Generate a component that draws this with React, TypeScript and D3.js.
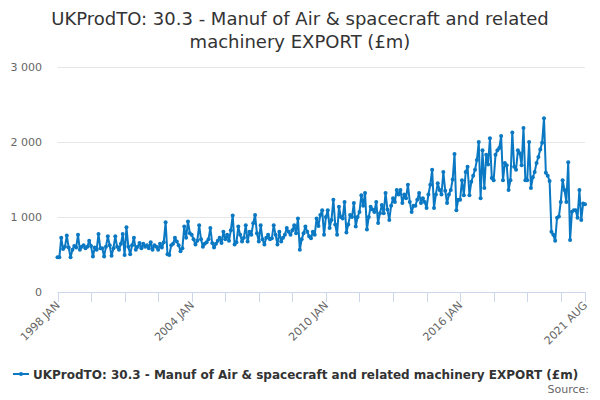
import * as d3 from "d3";
import React, { useEffect, useRef } from "react";

const startYear = 1998;
const monthNames = ["JAN", "FEB", "MAR", "APR", "MAY", "JUN", "JUL", "AUG", "SEP", "OCT", "NOV", "DEC"];

// monthly export values, £m, one row per year
const exportValues = [
  460, 460, 720, 570, 600, 750, 590, 460, 560, 610, 590, 760,
  560, 600, 620, 580, 600, 680, 610, 470, 590, 560, 770, 580,
  580, 470, 600, 740, 620, 480, 580, 740, 600, 560, 640, 770,
  490, 860, 600, 500, 620, 720, 560, 600, 650, 580, 640, 600,
  620, 580, 660, 560, 620, 600, 560, 640, 590, 660, 930, 500,
  490, 620, 640, 720, 670, 620, 540, 580, 870, 720, 940, 780,
  760, 700, 630, 680, 890, 700, 600, 640, 660, 700, 850, 650,
  590, 640, 680, 720, 650, 800, 700, 760, 680, 820, 1020, 630,
  660, 870, 760, 670, 720, 890, 670, 800, 760, 915, 1025, 780,
  670, 890, 700, 630, 720, 760, 700, 715, 890, 760, 630, 800,
  670, 720, 760, 850, 800, 760, 820, 890, 780, 980, 560, 700,
  780, 870, 800, 740, 715, 800, 760, 980, 880, 1025, 1090, 760,
  1000, 1090, 850, 960, 1230, 900, 760, 1135, 1000, 980, 1200, 790,
  900, 1025, 1000, 1185, 870, 1000, 1065, 1290, 1150, 1320, 830, 1000,
  1135, 1100, 1065, 1200, 920, 1050, 1160, 1050, 1320, 1100, 960, 1150,
  1250, 1200, 1360, 1300, 1360, 1185, 1300, 1250, 1430, 1200, 1065, 1150,
  1150, 1230, 1320, 1185, 1250, 1200, 1120, 1300, 1430, 1630, 1120, 1300,
  1450, 1360, 1300, 1600, 1350, 1185, 1300, 1360, 1500, 1840, 1090, 1230,
  1230, 1490, 1290, 1600, 1670, 1290, 1470, 1550, 1630, 1760, 2000, 1250,
  1890, 1385, 1830, 1700, 2050, 1520, 1490, 1830, 1890, 1920, 2080, 1490,
  1720, 1690, 1360, 1490, 2130, 1670, 1630, 1890, 1850, 1690, 2190, 1490,
  1490, 2000, 1385, 1530, 1600, 1720, 1800, 1900, 1990, 2320, 1590, 1550,
  1480, 800, 760, 680, 990, 1005, 1200, 1490, 1360, 1200, 1730, 690,
  1070, 1090, 1090, 990, 1360, 960, 1180, 1170,
];

const yTicks = [0, 1000, 2000, 3000];
const xTickLabels = ["1998 JAN", "2004 JAN", "2010 JAN", "2016 JAN", "2021 AUG"];

const titleLines = [
  "UKProdTO: 30.3 - Manuf of Air & spacecraft and related",
  "machinery EXPORT (£m)",
];
const seriesName = "UKProdTO: 30.3 - Manuf of Air & spacecraft and related machinery EXPORT (£m)";

const FONT = "'DejaVu Sans', sans-serif";
const LINE_COLOR = "#0a78c2";

const App = () => {
  const ref = useRef<SVGSVGElement | null>(null);

  useEffect(() => {
    document.body.style.margin = "0";
    const svg = d3.select(ref.current);
    svg.selectAll("*").remove();

    const width = 600;
    const height = 400;
    svg.attr("width", width).attr("height", height);

    const data = exportValues.map((v, i) => ({
      label: `${startYear + Math.floor(i / 12)} ${monthNames[i % 12]}`,
      value: v,
      i,
    }));
    const last = data.length - 1;

    const x = d3.scaleLinear().domain([0, last]).range([57.5, 585]);
    const y = d3.scaleLinear().domain([0, 3000]).range([291.7, 67.3]);

    svg.append("rect").attr("width", width).attr("height", height).attr("fill", "#fff");

    // title
    svg
      .append("g")
      .selectAll("text")
      .data(titleLines)
      .enter()
      .append("text")
      .attr("x", width / 2)
      .attr("y", (_, i) => 25 + i * 23)
      .attr("text-anchor", "middle")
      .style("font-family", FONT)
      .style("font-size", "18px")
      .attr("fill", "#333")
      .text((d) => d);

    // gridlines
    svg
      .append("g")
      .selectAll("line")
      .data(yTicks.filter((t) => t > 0))
      .enter()
      .append("line")
      .attr("x1", 57.5)
      .attr("x2", 585)
      .attr("y1", (d) => Math.round(y(d)) + 0.5)
      .attr("y2", (d) => Math.round(y(d)) + 0.5)
      .attr("stroke", "#e6e6e6");

    svg
      .append("g")
      .selectAll("text")
      .data(yTicks)
      .enter()
      .append("text")
      .attr("x", 42)
      .attr("y", (d) => y(d) + 4)
      .attr("text-anchor", "end")
      .style("font-family", FONT)
      .style("font-size", "11px")
      .attr("fill", "#666")
      .text((d) => d3.format(",")(d).replace(",", " "));

    // x axis
    const xAxis = svg.append("g");
    xAxis
      .append("line")
      .attr("x1", 57.5)
      .attr("x2", 585)
      .attr("y1", 292.5)
      .attr("y2", 292.5)
      .attr("stroke", "#ccd6eb");

    const tickIdx = d3.range(0, last, 18).concat([last]);
    xAxis
      .selectAll("line.tick")
      .data(tickIdx)
      .enter()
      .append("line")
      .attr("class", "tick")
      .attr("x1", (d) => Math.round(x(d)) + 0.5)
      .attr("x2", (d) => Math.round(x(d)) + 0.5)
      .attr("y1", 292)
      .attr("y2", 302)
      .attr("stroke", "#ccd6eb");

    const labelled = data.filter((d) => xTickLabels.includes(d.label));
    xAxis
      .selectAll("text")
      .data(labelled)
      .enter()
      .append("text")
      .attr("transform", (d) => `translate(${x(d.i) + 3},${306}) rotate(-45)`)
      .attr("text-anchor", "end")
      .style("font-family", FONT)
      .style("font-size", "11px")
      .attr("fill", "#666")
      .text((d) => d.label);

    // series
    const line = d3
      .line<{ i: number; value: number }>()
      .x((d) => x(d.i))
      .y((d) => y(d.value));

    svg
      .append("path")
      .datum(data)
      .attr("d", line)
      .attr("fill", "none")
      .attr("stroke", LINE_COLOR)
      .attr("stroke-width", 2)
      .attr("stroke-linejoin", "round");

    svg
      .append("g")
      .selectAll("circle")
      .data(data)
      .enter()
      .append("circle")
      .attr("cx", (d) => x(d.i))
      .attr("cy", (d) => y(d.value))
      .attr("r", 2)
      .attr("fill", LINE_COLOR);

    // legend
    const legend = svg.append("g").attr("transform", "translate(0, 374)");
    legend
      .append("line")
      .attr("x1", 13)
      .attr("x2", 29)
      .attr("y1", 0)
      .attr("y2", 0)
      .attr("stroke", LINE_COLOR)
      .attr("stroke-width", 2);
    legend.append("circle").attr("cx", 21).attr("cy", 0).attr("r", 2).attr("fill", LINE_COLOR);
    legend
      .append("text")
      .attr("x", 33)
      .attr("y", 4.5)
      .style("font-family", FONT)
      .style("font-size", "12px")
      .style("font-weight", "bold")
      .attr("fill", "#333")
      .text(seriesName);

    svg
      .append("text")
      .attr("x", 589)
      .attr("y", 393)
      .attr("text-anchor", "end")
      .style("font-family", FONT)
      .style("font-size", "11px")
      .attr("fill", "#666")
      .text("Source:");
  }, []);

  return <svg ref={ref} style={{ display: "block" }} />;
};

export default App;
